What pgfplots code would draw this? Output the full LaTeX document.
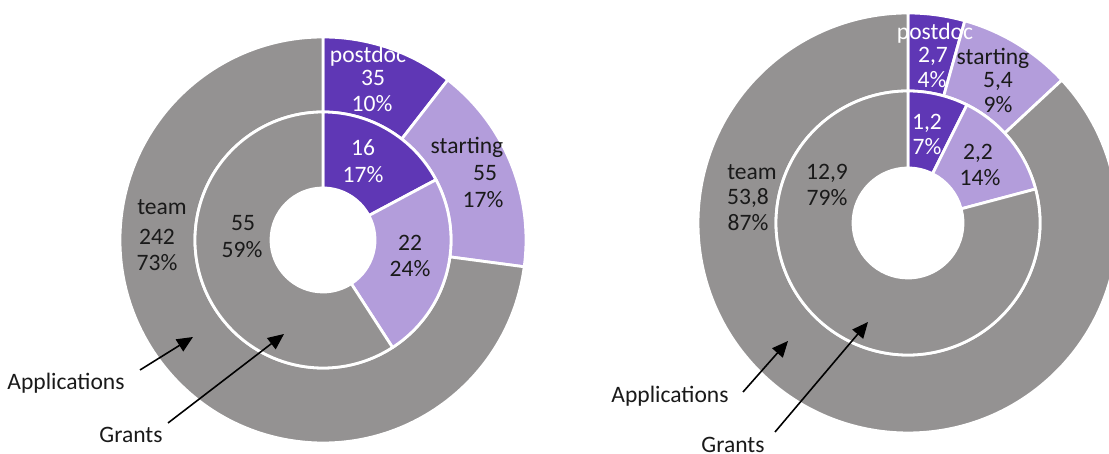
\documentclass[border=0pt]{standalone}
\usepackage{pgfplots}
\pgfplotsset{compat=1.18}
\usepackage{pgfplotstable}
\usepackage{fontspec}
\setmainfont{Carlito}
\usetikzlibrary{arrows.meta}
\definecolor{cpost}{HTML}{5F37B5}
\definecolor{cstart}{HTML}{B39DDB}
\definecolor{cteam}{HTML}{949292}
\definecolor{ctxt}{HTML}{1A1A1A}

% left chart: number of applications and grants
\pgfplotstableread{
cat apps grants
postdoc 35 16
starting 55 22
team 242 55
}\leftdata
% right chart: amounts
\pgfplotstableread{
cat apps grants
postdoc 2.7 1.2
starting 5.4 2.2
team 53.8 12.9
}\rightdata

\newcommand{\sector}[7]{%
  \fill[#7, draw=white, line width=0.8pt, line join=round]
   (axis cs:{#1+(#4)*cos(#5)},{#2+(#4)*sin(#5)})
   arc[start angle=#5, end angle=#6, radius=#4*0.1mm]
   -- (axis cs:{#1+(#3)*cos(#6)},{#2+(#3)*sin(#6)})
   arc[start angle=#6, end angle=#5, radius=#3*0.1mm] -- cycle;}

\newcommand{\ring}[6]{%
  \pgfplotstablegetelem{0}{#2}\of{#1}\let\va\pgfplotsretval
  \pgfplotstablegetelem{1}{#2}\of{#1}\let\vb\pgfplotsretval
  \pgfplotstablegetelem{2}{#2}\of{#1}\let\vc\pgfplotsretval
  \pgfmathsetmacro\tot{\va+\vb+\vc}
  \pgfmathsetmacro\fracA{\va/\tot}
  \pgfmathsetmacro\fracB{(\va+\vb)/\tot}
  \pgfmathsetmacro\angA{90-360*\fracA}
  \pgfmathsetmacro\angB{90-360*\fracB}
  \sector{#3}{#4}{#5}{#6}{90}{\angA}{cpost}
  \sector{#3}{#4}{#5}{#6}{\angA}{\angB}{cstart}
  \sector{#3}{#4}{#5}{#6}{\angB}{-270}{cteam}}

\tikzset{lab/.style={font=\fontsize{6.7}{7.4}\selectfont, text=ctxt, inner sep=0pt, text height=4.3pt, text depth=0pt, anchor=center},
  wlab/.style={lab, text=white},
  arr/.style={-{Triangle[length=1.6mm,width=1.4mm]}, line width=0.45pt, black}}

\begin{document}
\begin{tikzpicture}
\begin{axis}[
  scale only axis, width=11.09cm, height=4.54cm,
  xmin=0, xmax=1109, ymin=0, ymax=454,
  hide axis, clip=false]
\pgfplotsextra{%
  \begin{scope}
  \clip (axis cs:0,0) rectangle (axis cs:1109,454);
  % left donut: outer = applications, inner = grants
  \ring{\leftdata}{apps}{323}{214}{128}{203}
  \ring{\leftdata}{grants}{323}{214}{52}{128}
  % right donut
  \ring{\rightdata}{apps}{908}{231}{132}{210}
  \ring{\rightdata}{grants}{908}{231}{55}{132}
  \end{scope}
}
% left labels
\node[wlab] at (axis cs:368,399) {postdoc};
\node[wlab] at (axis cs:373,376) {35};
\node[wlab] at (axis cs:372,350) {10\%};
\node[wlab] at (axis cs:363,306) {16};
\node[wlab] at (axis cs:363,279) {17\%};
\node[lab] at (axis cs:467,308) {starting};
\node[lab] at (axis cs:485,281) {55};
\node[lab] at (axis cs:483,254) {17\%};
\node[lab] at (axis cs:410,211) {22};
\node[lab] at (axis cs:410,185) {24\%};
\node[lab] at (axis cs:162,247) {team};
\node[lab] at (axis cs:157,217) {242};
\node[lab] at (axis cs:157,191) {73\%};
\node[lab] at (axis cs:243,231) {55};
\node[lab] at (axis cs:242,204) {59\%};
% right labels
\node[wlab] at (axis cs:935,422) {postdoc};
\node[wlab] at (axis cs:933,399) {2,7};
\node[wlab] at (axis cs:932,374) {4\%};
\node[lab] at (axis cs:993,397) {starting};
\node[lab] at (axis cs:998,374) {5,4};
\node[lab] at (axis cs:998,349) {9\%};
\node[wlab] at (axis cs:927,332) {1,2};
\node[wlab] at (axis cs:927,307) {7\%};
\node[lab] at (axis cs:978,302) {2,2};
\node[lab] at (axis cs:980,276) {14\%};
\node[lab] at (axis cs:752,282) {team};
\node[lab] at (axis cs:748,257) {53,8};
\node[lab] at (axis cs:748,231) {87\%};
\node[lab] at (axis cs:827,282) {12,9};
\node[lab] at (axis cs:827,256) {79\%};
% annotations
\node[lab] at (axis cs:66,72) {Applications};
\node[lab] at (axis cs:131,19) {Grants};
\draw[arr] (axis cs:140,84) -- (axis cs:193,117);
\draw[arr] (axis cs:168,31) -- (axis cs:284,120);
\node[lab] at (axis cs:670,59) {Applications};
\node[lab] at (axis cs:733,9) {Grants};
\draw[arr] (axis cs:743,62) -- (axis cs:788,113);
\draw[arr] (axis cs:775,22) -- (axis cs:868,132);
\end{axis}
\end{tikzpicture}
\end{document}
